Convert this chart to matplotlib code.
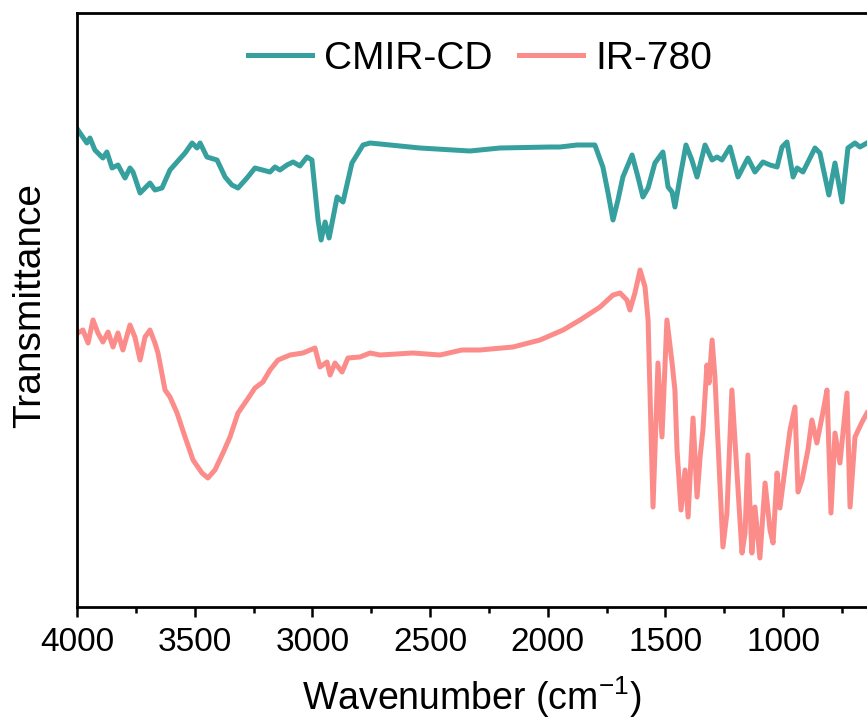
import matplotlib
matplotlib.use("Agg")
import matplotlib.pyplot as plt
from matplotlib.ticker import MultipleLocator

plt.rcParams['font.family'] = ['Liberation Sans', 'DejaVu Sans']
plt.rcParams['mathtext.fontset'] = 'custom'
plt.rcParams['mathtext.rm'] = 'Liberation Sans'
plt.rcParams['mathtext.it'] = 'Liberation Sans'
plt.rcParams['mathtext.default'] = 'regular'

# ---- data (transmittance in arbitrary units) ----
cmir_wn = [3996, 3958, 3945, 3924, 3890, 3873, 3851, 3826, 3796, 3775, 3762, 3732,
           3690, 3669, 3639, 3605, 3575, 3541, 3511, 3490, 3477, 3448, 3405, 3371,
           3342, 3316, 3278, 3244, 3180, 3159, 3138, 3108, 3082, 3053, 3023, 3002,
           2976, 2963, 2946, 2929, 2895, 2870, 2832, 2785, 2755, 2543, 2331, 2203,
           1991, 1948, 1876, 1800, 1766, 1744, 1723, 1702, 1681, 1642, 1617, 1596,
           1574, 1545, 1511, 1489, 1472, 1460, 1438, 1413, 1388, 1366, 1332, 1302,
           1281, 1260, 1226, 1192, 1150, 1120, 1086, 1056, 1026, 1005, 984, 958,
           941, 916, 865, 844, 806, 780, 750, 725, 695, 674, 644]
cmir_t = [477, 464, 469, 457, 449, 455, 439, 442, 429, 439, 435, 414,
          424, 417, 419, 437, 445, 454, 464, 459, 464, 450, 447, 430,
          422, 419, 429, 439, 435, 440, 437, 442, 445, 441, 450, 447,
          387, 367, 385, 369, 410, 405, 444, 462, 464, 459, 456, 459,
          460, 460, 462, 462, 440, 414, 387, 407, 430, 452, 430, 410,
          419, 444, 455, 420, 415, 400, 430, 462, 447, 430, 462, 447,
          450, 447, 460, 430, 449, 435, 445, 442, 440, 460, 465, 430,
          439, 435, 459, 454, 412, 444, 405, 459, 464, 460, 464]

ir780_wn = [3996, 3975, 3953, 3932, 3911, 3890, 3868, 3847, 3826, 3805, 3775, 3754,
            3732, 3711, 3690, 3669, 3656, 3626, 3605, 3575, 3541, 3507, 3469, 3444,
            3414, 3380, 3350, 3316, 3278, 3244, 3210, 3180, 3146, 3095, 3040, 2989,
            2968, 2938, 2925, 2904, 2874, 2849, 2798, 2755, 2713, 2573, 2458, 2365,
            2288, 2148, 2033, 1935, 1863, 1778, 1723, 1693, 1664, 1651, 1630, 1608,
            1587, 1574, 1553, 1532, 1515, 1494, 1472, 1460, 1451, 1434, 1417, 1404,
            1383, 1366, 1353, 1341, 1324, 1315, 1302, 1290, 1256, 1239, 1218, 1205,
            1175, 1162, 1150, 1133, 1120, 1099, 1077, 1056, 1043, 1026, 1014, 971,
            950, 937, 920, 895, 878, 857, 831, 814, 797, 780, 759, 729, 716, 695,
            665, 644]
ir780_t = [274, 277, 264, 287, 274, 265, 275, 260, 274, 257, 282, 270,
           247, 270, 277, 264, 254, 217, 210, 194, 170, 147, 134, 129,
           137, 154, 170, 194, 207, 219, 225, 237, 247, 252, 254, 259,
           240, 245, 232, 244, 235, 249, 250, 254, 252, 254, 252, 257,
           257, 260, 267, 277, 287, 300, 312, 314, 307, 297, 314, 337,
           320, 287, 100, 244, 170, 287, 244, 217, 157, 97, 137, 90,
           189, 110, 150, 177, 242, 224, 267, 230, 60, 94, 217, 167,
           54, 74, 152, 54, 100, 49, 124, 77, 64, 134, 99, 177,
           200, 115, 127, 157, 187, 164, 195, 217, 94, 174, 144, 214, 100, 170,
           185, 194]

series_names = ['CMIR-CD', 'IR-780']
series_colors = ['#36A09E', '#FC8C8A']
x_ticks = [4000, 3500, 3000, 2500, 2000, 1500, 1000]

W, H = 867, 720
fig = plt.figure(figsize=(W / 100, H / 100), dpi=100)
ax = fig.add_axes([77 / W, 1 - 607 / H, 1 - 77 / W, (607 - 13) / H])

ax.plot(cmir_wn, cmir_t, color=series_colors[0], lw=3.6, label=series_names[0],
        solid_joinstyle='round')
ax.plot(ir780_wn, ir780_t, color=series_colors[1], lw=3.6, label=series_names[1],
        solid_joinstyle='round')

ax.set_xlim(4000, 644)
ax.set_ylim(0, 594)
ax.set_xticks(x_ticks)
ax.set_xticklabels([str(t) for t in x_ticks])
ax.xaxis.set_minor_locator(MultipleLocator(250))
ax.set_yticks([])

for s in ['left', 'bottom', 'top']:
    ax.spines[s].set_linewidth(2.0)
ax.spines['right'].set_visible(False)

ax.tick_params(axis='x', which='major', direction='out', length=7.5, width=1.8,
               labelsize=24, pad=7)
ax.tick_params(axis='x', which='minor', direction='out', length=4, width=1.8)

ax.set_xlabel(r'Wavenumber (cm$^{-1}$)', fontsize=27, labelpad=12)
ax.set_ylabel('Transmittance', fontsize=28)
ax.yaxis.set_label_coords(-0.037, 0.508)

leg = ax.legend(loc='upper center', bbox_to_anchor=(0.51, 1.012), ncol=2,
                frameon=False, fontsize=28, handlelength=1.65, handletextpad=0.3,
                columnspacing=0.7)

fig.savefig('out.png', dpi=100)
